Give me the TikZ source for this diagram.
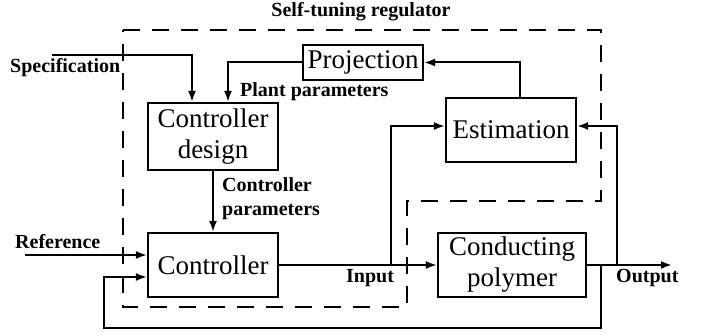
\documentclass[tikz,border=0pt]{standalone}
\usepackage{fontspec}
\setmainfont{Liberation Serif}
\usetikzlibrary{arrows.meta}
\begin{document}
\begin{tikzpicture}[x=1pt,y=-1pt,
  blk/.style={draw,line width=2.2pt,inner sep=0pt,align=center,font=\fontsize{27}{31}\selectfont},
  lbl/.style={font=\bfseries\fontsize{20}{24}\selectfont,inner sep=0pt,align=left},
  conn/.style={line width=2pt,-{Latex[length=11pt,width=8pt]}},
  bound/.style={line width=2.5pt,dash pattern=on 17pt off 12pt}]
\useasboundingbox (0,0) rectangle (706,336);
% boundary
\draw[bound] (123,30) -- (601,30) -- (601,201) -- (407,201) -- (407,307) -- (123,307) -- cycle;
% blocks
\node[blk,minimum width=120,minimum height=35] (proj) at (363,62.5) {Projection};
\node[blk,minimum width=130,minimum height=67] (cd) at (213,136.5) {Controller\\design};
\node[blk,minimum width=130,minimum height=64] (est) at (511,130) {Estimation};
\node[blk,minimum width=130,minimum height=64] (ctrl) at (213,265) {Controller};
\node[blk,minimum width=148,minimum height=64] (plant) at (512,265) {Conducting\\polymer};
% coordinates
\coordinate (spec) at (52,55);
\coordinate (ref) at (25,255);
\coordinate (j1) at (391,265);
\coordinate (j2) at (617,265);
\coordinate (j3) at (601,265);
\coordinate (outc) at (672,265);
\coordinate (fb) at (104,328);
% labels
\node[lbl] (title) at (361,12) {Self-tuning regulator};
\node[lbl,anchor=west] (lspec) at (10,68) {Specification};
\node[lbl,anchor=west] (lplant) at (240,92) {Plant parameters};
\node[lbl,anchor=west] (lcp) at (222,199) {Controller\\parameters};
\node[lbl,anchor=west] (lref) at (15,242) {Reference};
\node[lbl,anchor=west] (lin) at (346,278) {Input};
\node[lbl,anchor=west] (lout) at (616,278) {Output};
% connectors
\draw[conn] (spec) -| ([xshift=-21pt]cd.north);
\draw[conn] (proj.west) -| ([xshift=15pt]cd.north);
\draw[conn] ([xshift=9pt]est.north) |- (proj.east);
\draw[conn] (cd.south) -- (ctrl.north);
\draw[conn] (ref) -- (ref -| ctrl.west);
\draw[conn] (ctrl.east) -- (plant.west);
\draw[conn] (j1) |- ([yshift=4pt]est.west);
\draw[conn] (plant.east) -- (outc);
\draw[conn] (j2) |- ([yshift=4pt]est.east);
\draw[conn] (j3) |- (fb) |- ([yshift=-12pt]ctrl.west);
\end{tikzpicture}
\end{document}
